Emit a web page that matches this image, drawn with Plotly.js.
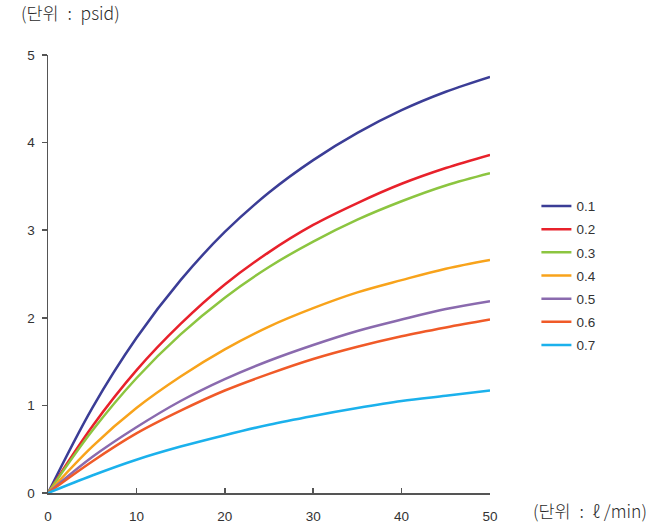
<!DOCTYPE html>
<html>
<head>
<meta charset="utf-8">
<script src="https://cdn.plot.ly/plotly-3.0.1.min.js"></script>
<style>html,body{margin:0;padding:0;background:#fff;}#chart{width:651px;height:526px;}</style>
</head>
<body>
<div id="chart"></div>
<script>
const flow = [0, 5, 10, 15, 20, 25, 30, 35, 40, 45, 50];
const seriesNames = ["0.1", "0.2", "0.3", "0.4", "0.5", "0.6", "0.7"];
const s01 = [0, 0.97, 1.77, 2.43, 2.98, 3.43, 3.80, 4.11, 4.37, 4.58, 4.75];
const s02 = [0, 0.76, 1.40, 1.93, 2.38, 2.75, 3.06, 3.31, 3.53, 3.71, 3.86];
const s03 = [0, 0.71, 1.31, 1.81, 2.23, 2.58, 2.87, 3.12, 3.33, 3.51, 3.65];
const s04 = [0, 0.53, 0.97, 1.33, 1.64, 1.90, 2.11, 2.29, 2.43, 2.56, 2.66];
const s05 = [0, 0.41, 0.75, 1.05, 1.30, 1.51, 1.69, 1.85, 1.98, 2.10, 2.19];
const s06 = [0, 0.36, 0.68, 0.94, 1.17, 1.36, 1.53, 1.67, 1.79, 1.89, 1.98];
const s07 = [0, 0.20, 0.38, 0.53, 0.66, 0.78, 0.88, 0.97, 1.05, 1.11, 1.17];
const xTicks = [0, 10, 20, 30, 40, 50];
const yTicks = [0, 1, 2, 3, 4, 5];

const seriesValues = [s01, s02, s03, s04, s05, s06, s07];
const colors = ["#3b3d96", "#e8212b", "#8cc540", "#f8a31b", "#8a6aae", "#f05a28", "#1bb1ec"];

const traces = seriesValues.map((vals, i) => ({
  x: flow, y: vals, name: seriesNames[i], legendgroup: "g" + i, type: "scatter", mode: "lines",
  line: {color: colors[i], width: 2.5, shape: "spline", smoothing: 1.0}
}));

const font = '"Liberation Sans Narrow", "Liberation Sans", Arial, sans-serif';
const kfont = '"Noto Sans CJK KR", sans-serif';
const layout = {
  width: 651, height: 526,
  margin: {l: 48, r: 161, t: 55, b: 33},
  paper_bgcolor: "#fff", plot_bgcolor: "#fff",
  font: {family: font, color: "#333", size: 13},
  showlegend: true,
  legend: {x: 1.105, xanchor: "left", y: 0.69, yanchor: "top",
           font: {family: font, size: 13.5, color: "#333"}, tracegroupgap: 2.6, itemwidth: 30,
           bgcolor: "rgba(0,0,0,0)"},
  xaxis: {range: [0, 50], tickvals: xTicks, ticktext: xTicks.map(String),
          showgrid: false, zeroline: false, showline: true, linecolor: "#555", linewidth: 1.5,
          ticks: "inside", ticklen: 5, tickcolor: "#555", tickwidth: 1.5, ticklabelstandoff: 10,
          tickfont: {family: font, size: 13.5, color: "#333"}, fixedrange: true},
  yaxis: {range: [0, 5], tickvals: yTicks, ticktext: yTicks.map(String),
          showgrid: false, zeroline: false, showline: true, linecolor: "#555", linewidth: 1.5,
          ticks: "outside", ticklen: 5, tickcolor: "#555", tickwidth: 1.5, ticklabelstandoff: 4,
          tickfont: {family: font, size: 13.5, color: "#333"}, fixedrange: true},
  annotations: [
    {text: "(단위\u2002:\u2002psid)", xref: "paper", yref: "paper", x: -0.066, y: 1.097,
     xanchor: "left", yanchor: "middle", showarrow: false,
     font: {family: kfont, size: 17.5, color: "#2a2a2a", weight: 300}},
    {text: "(단위\u2002:\u2002ℓ /min)", xref: "paper", yref: "paper", x: 1.093, y: -0.04,
     xanchor: "left", yanchor: "middle", showarrow: false,
     font: {family: kfont, size: 17.5, color: "#2a2a2a", weight: 300}}
  ]
};

Plotly.newPlot("chart", traces, layout, {displayModeBar: false, staticPlot: true});
</script>
</body>
</html>
